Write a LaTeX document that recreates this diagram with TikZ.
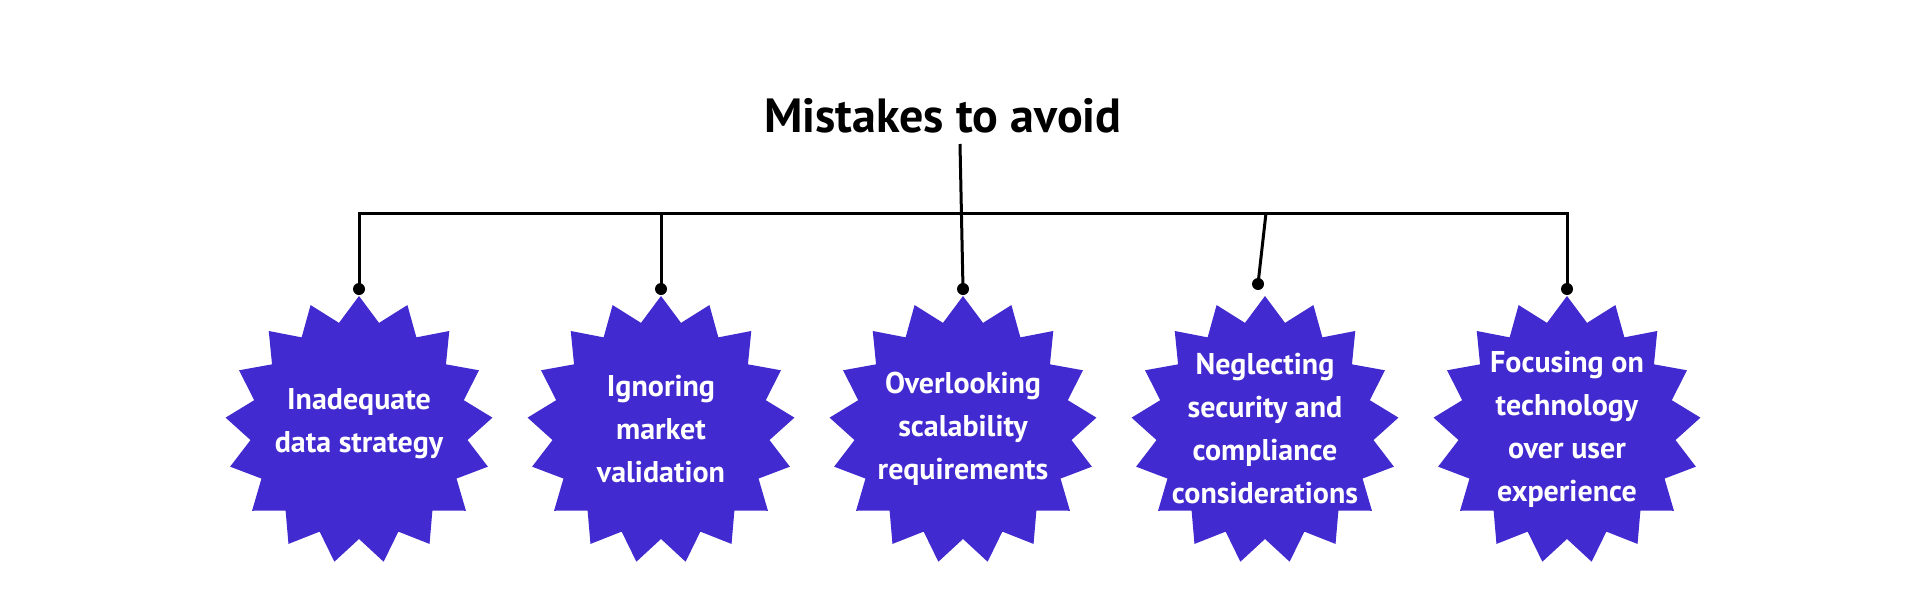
\documentclass[tikz,border=0pt]{standalone}
\usepackage{fontspec}
\setmainfont{PT Sans}
\usetikzlibrary{shapes.geometric}
\definecolor{burst}{RGB}{65,42,207}
\tikzset{
  burststar/.style={star, star points=17, star point ratio=1.23, minimum size=268pt,
    inner sep=0pt, outer sep=0pt, fill=burst, draw=none},
  bursttext/.style={text=white, align=center, font=\fontsize{30}{43}\selectfont\bfseries},
  dotnode/.style={circle, fill=black, minimum size=12pt, inner sep=0pt, outer sep=0pt},
  link/.style={line width=3pt, black},
  titletext/.style={font=\fontsize{48}{56}\selectfont\bfseries, text=black}
}
\begin{document}
\begin{tikzpicture}[x=1pt, y=-1pt]
\useasboundingbox (0,0) rectangle (1920,600);
\node[titletext, anchor=base] (title) at (943,132) {Mistakes to avoid};
\coordinate (ts) at (960,144);
% stars
\node[burststar] (s1) at (359,430) {};
\node[burststar] (s2) at (661,430) {};
\node[burststar] (s3) at (963,430) {};
\node[burststar] (s4) at (1265,430) {};
\node[burststar] (s5) at (1567,430) {};
\node[bursttext] (t1) at (359,424) {Inadequate\\data strategy};
\node[bursttext] (t2) at (661,429) {Ignoring\\market\\validation};
\node[bursttext] (t3) at (963,429) {Overlooking\\scalability\\requirements};
\node[bursttext] (t4) at (1265,429) {Neglecting\\security and\\compliance\\considerations};
\node[bursttext] (t5) at (1567,429) {Focusing on\\technology\\over user\\experience};
% dots
\node[dotnode] (d1) at (359,289) {};
\node[dotnode] (d2) at (661,289) {};
\node[dotnode] (d3) at (963,289) {};
\node[dotnode] (d4) at (1258,284) {};
\node[dotnode] (d5) at (1567,289) {};
% junctions
\coordinate (j1) at (359,213);
\coordinate (j2) at (661,213);
\coordinate (j4) at (1266,213);
\coordinate (j5) at (1567,213);
\draw[link] (d1.center) -- (j1) -- (j5) -- (d5.center);
\draw[link] (j2) -- (d2.center);
\draw[link] (ts) -- (d3.center);
\draw[link] (j4) -- (d4.center);
\end{tikzpicture}
\end{document}
